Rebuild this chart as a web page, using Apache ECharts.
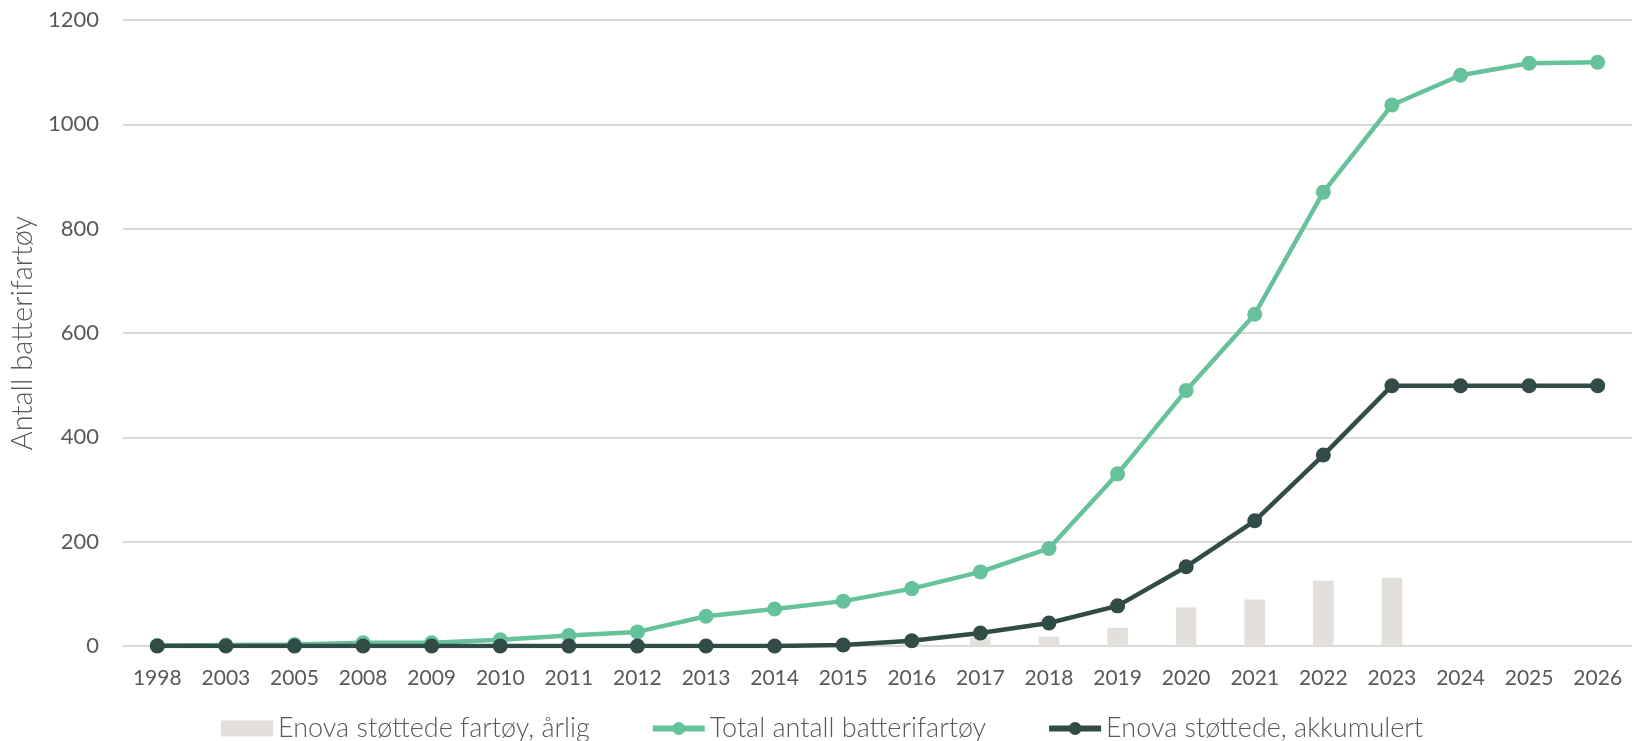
<!DOCTYPE html>
<html>
<head>
<meta charset="utf-8">
<script src="https://cdn.jsdelivr.net/npm/echarts@6/dist/echarts.min.js"></script>
<style>
html,body{margin:0;padding:0;background:#fff;}
#chart{width:1632px;height:741px;}
</style>
</head>
<body>
<div id="chart"></div>
<script>
const years = ['1998','2003','2005','2008','2009','2010','2011','2012','2013','2014','2015','2016','2017','2018','2019','2020','2021','2022','2023','2024','2025','2026'];
const enovaAnnual = [null,null,null,null,null,null,null,null,null,null,null,4,16,18,35,74,89,125,131,null,null,null];
const totalBattery = [1,2,3,6,6,12,20,27,57,71,86,110,142,187,330,490,636,870,1037,1094,1117,1119];
const enovaCumulative = [0,0,0,0,0,0,0,0,0,0,2,10,25,44,77,152,240,366,499,499,499,499];
const yTicks = {min:0, max:1200, interval:200};

const font = 'Lato';
const textColor = '#595959';
const chart = echarts.init(document.getElementById('chart'));
chart.setOption({
  animation:false,
  textStyle:{fontFamily:font},
  grid:{left:123,right:0,top:20,bottom:95,containLabel:false},
  legend:{
    top:710,left:216,itemGap:60,itemWidth:52,itemHeight:16,
    textStyle:{fontSize:27,color:textColor,fontFamily:font,fontWeight:300},
    lineStyle:{width:6},
    data:[
      {name:'Enova støttede fartøy, årlig',icon:'rect'},
      {name:'Total antall batterifartøy'},
      {name:'Enova støttede, akkumulert'}
    ]
  },
  xAxis:{
    type:'category',data:years,boundaryGap:true,
    axisLine:{show:false},axisTick:{show:false},
    axisLabel:{color:textColor,fontSize:21,margin:22,interval:0,fontWeight:'normal'}
  },
  yAxis:{
    type:'value',min:yTicks.min,max:yTicks.max,interval:yTicks.interval,
    name:'Antall batterifartøy',nameLocation:'middle',nameGap:80,
    nameTextStyle:{color:textColor,fontSize:29,fontFamily:font,fontWeight:300},
    axisLabel:{color:textColor,fontSize:22,margin:24,fontWeight:'normal',formatter:function(v){return String(v);}},
    splitLine:{lineStyle:{color:'#d9d9d9',width:2}},
    axisLine:{show:false},axisTick:{show:false}
  },
  series:[
    {name:'Enova støttede fartøy, årlig',type:'bar',data:enovaAnnual,barWidth:'30%',
     itemStyle:{color:'#E3E0DB'},z:1},
    {name:'Total antall batterifartøy',type:'line',data:totalBattery,symbol:'circle',symbolSize:15,
     lineStyle:{color:'#66C29A',width:4.5},itemStyle:{color:'#66C29A'},z:3},
    {name:'Enova støttede, akkumulert',type:'line',data:enovaCumulative,symbol:'circle',symbolSize:15,
     lineStyle:{color:'#314B46',width:4.5},itemStyle:{color:'#314B46'},z:4}
  ]
});
</script>
</body>
</html>
